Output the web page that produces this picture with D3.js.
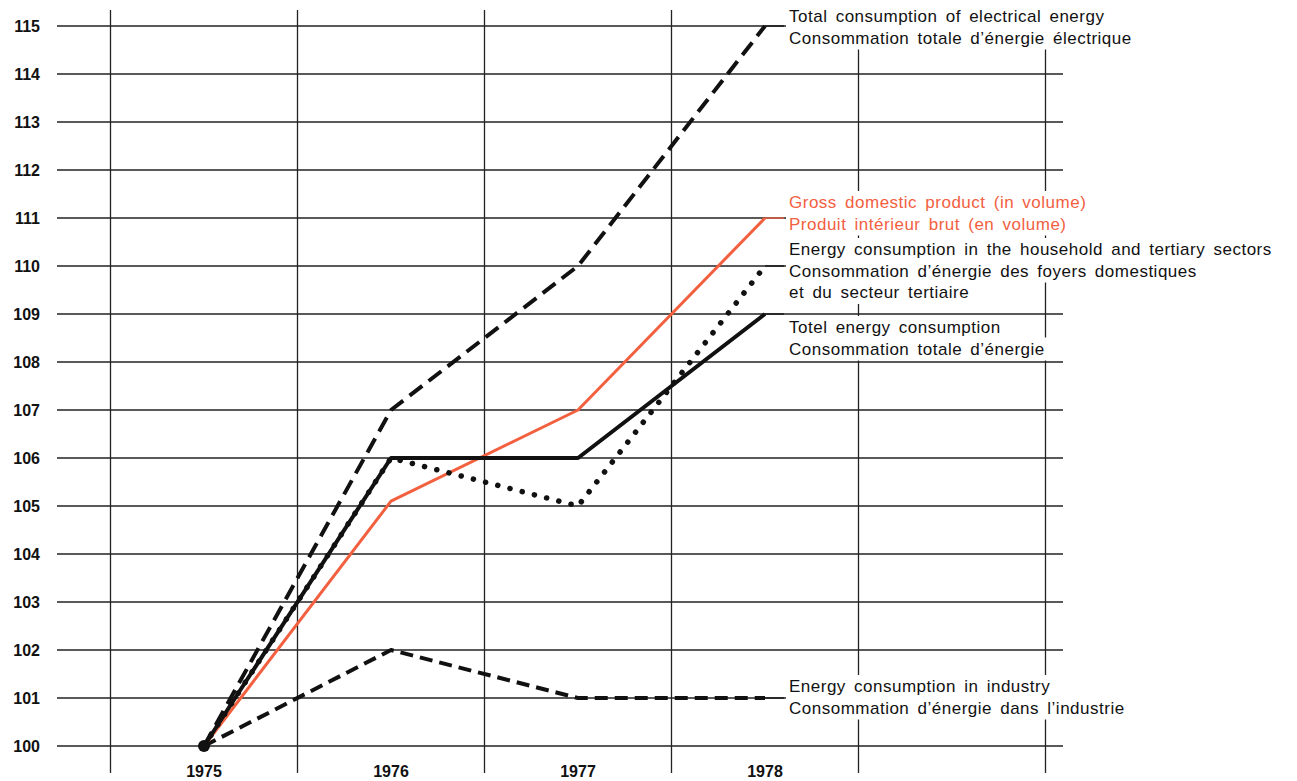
<!DOCTYPE html>
<html>
<head>
<meta charset="utf-8">
<script src="https://cdn.jsdelivr.net/npm/d3@7"></script>
<style>
body { margin: 0; background: #fff; }
text { font-family: "Liberation Sans", Arial, sans-serif; }
</style>
</head>
<body>
<script>
// data (index, 1975 = 100)
var years = [1975, 1976, 1977, 1978];
var yTicks = [100, 101, 102, 103, 104, 105, 106, 107, 108, 109, 110, 111, 112, 113, 114, 115];
var gridYears = [1974.5, 1975.5, 1976.5, 1977.5, 1978.5, 1979.5];

var electricity = [100, 107, 110, 115];
var gdp = [100, 105.1, 107, 111];
var household = [100, 106, 105, 110];
var totalEnergy = [100, 106, 106, 109];
var industry = [100, 102, 101, 101];

var electricityLabel = ["Total consumption of electrical energy", "Consommation totale d\u2019\u00e9nergie \u00e9lectrique"];
var gdpLabel = ["Gross domestic product (in volume)", "Produit int\u00e9rieur brut (en volume)"];
var householdLabel = ["Energy consumption in the household and tertiary sectors", "Consommation d\u2019\u00e9nergie des foyers domestiques", "et du secteur tertiaire"];
var totalLabel = ["Totel energy consumption", "Consommation totale d\u2019\u00e9nergie"];
var industryLabel = ["Energy consumption in industry", "Consommation d\u2019\u00e9nergie dans l\u2019industrie"];

window.onload = function(){

    var w = 1297, h = 781;
    var orange = "#f2603f";

    var svg = d3.select("body")
        .append("svg")
        .attr("width", w)
        .attr("height", h);

    var x = d3.scaleLinear().domain([1974.5, 1979.5]).range([110.5, 1045.5]);
    var y = d3.scaleLinear().domain([100, 115]).range([746, 26]);

    // grid
    svg.append("g").selectAll("line")
        .data(yTicks)
        .enter().append("line")
        .attr("x1", 57).attr("x2", 1063)
        .attr("y1", function(d){ return y(d); })
        .attr("y2", function(d){ return y(d); })
        .attr("stroke", "#222").attr("stroke-width", 1.3);

    svg.append("g").selectAll("line")
        .data(gridYears)
        .enter().append("line")
        .attr("x1", function(d){ return x(d); })
        .attr("x2", function(d){ return x(d); })
        .attr("y1", 10).attr("y2", 773)
        .attr("stroke", "#222").attr("stroke-width", 1.3);

    // y labels
    svg.append("g").selectAll("text")
        .data(yTicks)
        .enter().append("text")
        .attr("x", 40)
        .attr("y", function(d){ return y(d) + 6; })
        .attr("text-anchor", "end")
        .attr("font-size", 16)
        .attr("font-weight", "bold")
        .attr("fill", "#111")
        .text(function(d){ return d; });

    // x labels
    svg.append("g").selectAll("text")
        .data(years)
        .enter().append("text")
        .attr("x", function(d){ return x(d); })
        .attr("y", 777)
        .attr("text-anchor", "middle")
        .attr("font-size", 16)
        .attr("font-weight", "bold")
        .attr("fill", "#111")
        .text(function(d){ return d; });

    var line = d3.line()
        .x(function(d, i){ return x(years[i]); })
        .y(function(d){ return y(d); });

    var series = [
        { values: industry, color: "#111", width: 4, dash: "13 7", cap: "butt", label: industryLabel, top: 692 },
        { values: electricity, color: "#111", width: 4, dash: "16 8", cap: "butt", label: electricityLabel, top: 22 },
        { values: gdp, color: orange, width: 3, dash: null, cap: "butt", label: gdpLabel, top: 208 },
        { values: household, color: "#111", width: 5.5, dash: "0.1 12.5", cap: "round", label: householdLabel, top: 255 },
        { values: totalEnergy, color: "#111", width: 4, dash: null, cap: "butt", label: totalLabel, top: 333 }
    ];

    // labels with white boxes covering the grid
    series.forEach(function(s){
        var g = svg.append("g");
        var endY = y(s.values[s.values.length - 1]);
        g.append("line") //leader line from the end point to the label
            .attr("x1", x(1978)).attr("x2", 784)
            .attr("y1", endY).attr("y2", endY)
            .attr("stroke", s.color).attr("stroke-width", 1.3);
        s.label.forEach(function(t, i){
            var txt = g.append("text")
                .attr("x", 789)
                .attr("y", s.top + i * 21.5)
                .attr("font-size", 17)
                .attr("word-spacing", 3)
                .attr("letter-spacing", 0.5)
                .attr("fill", s.color)
                .text(t);
            var b = txt.node().getBBox();
            g.insert("rect", "text")
                .attr("x", b.x - 3).attr("y", s.top + i * 21.5 - 17)
                .attr("width", b.width + 8).attr("height", 23)
                .attr("fill", "#fff");
        });
    });

    series.forEach(function(s){
        svg.append("path")
            .datum(s.values)
            .attr("d", line)
            .attr("fill", "none")
            .attr("stroke", s.color)
            .attr("stroke-width", s.width)
            .attr("stroke-dasharray", s.dash)
            .attr("stroke-linecap", s.cap)
            .attr("stroke-linejoin", "round");
    });

    svg.append("circle") //common starting point
        .attr("cx", x(1975)).attr("cy", y(100))
        .attr("r", 6).attr("fill", "#111");
};
</script>
</body>
</html>
